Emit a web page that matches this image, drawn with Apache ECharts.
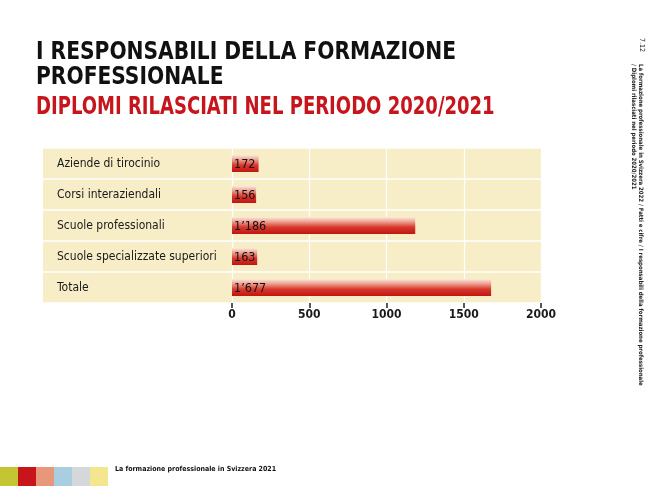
<!DOCTYPE html>
<html>
<head>
<meta charset="utf-8">
<script src="https://cdn.jsdelivr.net/npm/echarts@6/dist/echarts.min.js"></script>
<style>
html,body{margin:0;padding:0;background:#fff;}
#chart{width:650px;height:486px;}
</style>
</head>
<body>
<div id="chart"></div>
<script>
const categories = ['Aziende di tirocinio', 'Corsi interaziendali', 'Scuole professionali', 'Scuole specializzate superiori', 'Totale'];
const diplomi = [172, 156, 1186, 163, 1677];
const axisMin = 0;
const axisMax = 2000;
const axisStep = 500;
const titleLine1 = 'I RESPONSABILI DELLA FORMAZIONE';
const titleLine2 = 'PROFESSIONALE';
const subtitle = 'DIPLOMI RILASCIATI NEL PERIODO 2020/2021';
const sideNumber = '7.12';
const sideLine1 = 'La formazione professionale in Svizzera 2022 / Fatti e cifre / I responsabili della formazione professionale';
const sideLine2 = '/ Diplomi rilasciati nel periodo 2020/2021';
const footerText = 'La formazione professionale in Svizzera 2021';
const stripColors = ['#c4c532', '#c8141b', '#e8977b', '#a9cee0', '#d4d8db', '#f3e68f'];

const fmt = v => String(v).replace(/\B(?=(\d{3})+(?!\d))/g, '\u2019');
const FONT = 'DejaVu Sans Condensed';
const panelBg = '#f7eec8';

const chart = echarts.init(document.getElementById('chart'), null, {renderer: 'canvas'});

const graphics = [];
graphics.push({type: 'text', x: 36, y: 40, scaleX: 0.9, style: {text: titleLine1, font: 'bold 25px "DejaVu Sans Condensed"', fill: '#111', textVerticalAlign: 'top'}});
graphics.push({type: 'text', x: 36, y: 65, scaleX: 0.9, style: {text: titleLine2, font: 'bold 25px "DejaVu Sans Condensed"', fill: '#111', textVerticalAlign: 'top'}});
graphics.push({type: 'text', x: 36, y: 96, scaleX: 0.835, style: {text: subtitle, font: 'bold 24px "DejaVu Sans Condensed"', fill: '#c6151c', textVerticalAlign: 'top'}});
stripColors.forEach((c, i) => {
  graphics.push({type: 'rect', left: i * 18, top: 467, shape: {width: 18, height: 19}, style: {fill: c}, silent: true});
});
graphics.push({type: 'text', left: 115, top: 466, style: {text: footerText, font: 'bold 7px "DejaVu Sans Condensed"', fill: '#111'}});
graphics.push({type: 'text', x: 645, y: 38, rotation: -Math.PI / 2, style: {text: sideNumber, font: '7px "DejaVu Sans Condensed"', fill: '#222'}});
graphics.push({type: 'text', x: 644, y: 64, rotation: -Math.PI / 2, style: {text: sideLine1, font: 'bold 6px "DejaVu Sans Condensed"', fill: '#222'}});
graphics.push({type: 'text', x: 637, y: 64, rotation: -Math.PI / 2, style: {text: sideLine2, font: 'bold 6px "DejaVu Sans Condensed"', fill: '#222'}});

const option = {
  animation: false,
  backgroundColor: '#fff',
  grid: [
    {left: 43, top: 148, width: 189, height: 155, show: true, backgroundColor: panelBg, borderWidth: 0},
    {left: 232, top: 148, width: 309, height: 155, show: true, backgroundColor: panelBg, borderWidth: 0}
  ],
  xAxis: [
    {gridIndex: 0, type: 'value', show: false, min: 0, max: 1},
    {gridIndex: 1, type: 'value', min: axisMin, max: axisMax, interval: axisStep,
     axisLine: {show: false},
     axisTick: {show: true, length: 5, lineStyle: {color: '#222', width: 1.5}},
     axisLabel: {margin: 6, color: '#1a1a1a', fontFamily: FONT, fontSize: 12, fontWeight: 'bold', formatter: v => String(v)},
     splitLine: {show: true, lineStyle: {color: '#ffffff', width: 1.2}}}
  ],
  yAxis: [
    {gridIndex: 0, type: 'category', data: categories, inverse: true,
     axisLine: {show: false}, axisTick: {show: false}, axisLabel: {show: false},
     splitLine: {show: true, lineStyle: {color: '#ffffff', width: 1.5}}},
    {gridIndex: 1, type: 'category', data: categories, inverse: true,
     axisLine: {show: false}, axisTick: {show: false},
     axisLabel: {align: 'left', margin: 175, color: '#1a1a1a', fontFamily: FONT, fontSize: 12},
     splitLine: {show: true, lineStyle: {color: '#ffffff', width: 1.5}}}
  ],
  series: [{
    type: 'bar',
    xAxisIndex: 1, yAxisIndex: 1,
    data: diplomi,
    barWidth: 17,
    itemStyle: {
      color: new echarts.graphic.LinearGradient(0, 0, 0, 1, [
        {offset: 0, color: '#fbeadf'},
        {offset: 0.3, color: '#ec9a8a'},
        {offset: 0.6, color: '#d8382e'},
        {offset: 1, color: '#c31410'}
      ])
    },
    label: {show: true, position: 'insideLeft', distance: 2, formatter: p => fmt(p.value),
            color: '#111', fontFamily: FONT, fontSize: 12.5, fontWeight: 500, offset: [0, 1]}
  }],
  graphic: graphics
};
chart.setOption(option);
</script>
</body>
</html>
